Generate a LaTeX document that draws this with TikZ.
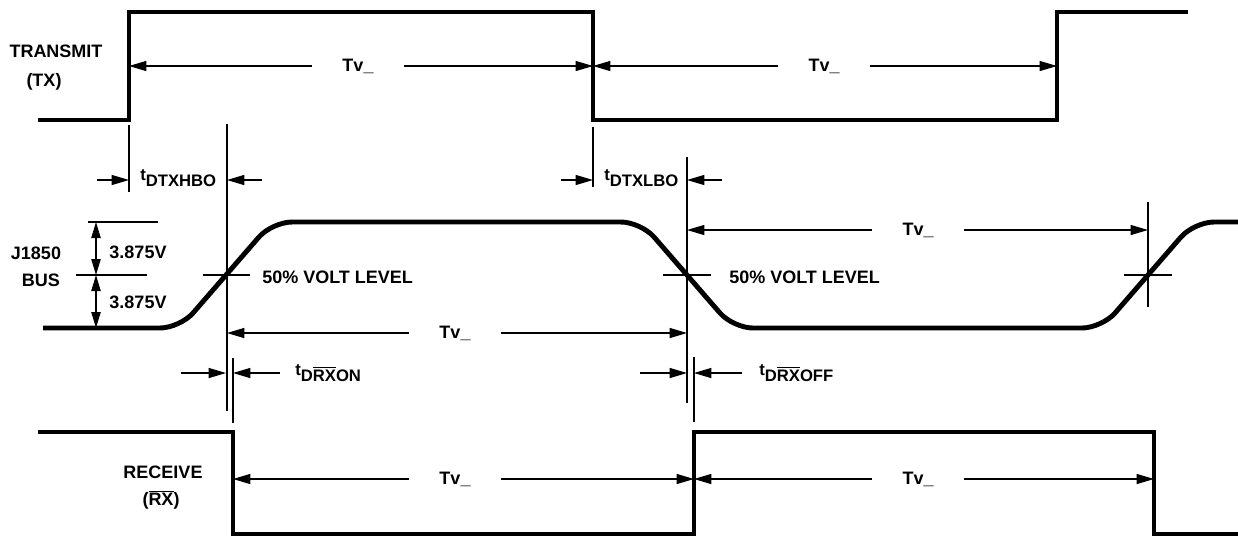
\documentclass[tikz,border=0pt]{standalone}
\usepackage{fontspec}
\setmainfont{Liberation Sans}
\usetikzlibrary{arrows.meta}
\tikzset{
  signal/.style={line width=3.7pt},
  guide/.style={line width=0.9pt},
  dim/.style={guide,-{Triangle[length=13pt,width=7.5pt]}},
  dimboth/.style={guide,{Triangle[length=12pt,width=7pt]}-{Triangle[length=12pt,width=7pt]}},
  txt/.style={inner sep=0.75pt,font=\fontsize{13.5}{16}\selectfont\bfseries},
  tvlabel/.style={txt,inner xsep=23pt},
  tlabel/.style={txt,anchor=base west,font=\fontsize{12.5}{15}\selectfont\bfseries}
}
\newcommand{\tdelay}[1]{t\raisebox{-4.5pt}{#1}}
\newcommand{\barrx}{$\overline{\mbox{RX}}$}

\begin{document}
\begin{tikzpicture}[x=0.75pt,y=0.75pt,yscale=-1,xscale=1]
\path[use as bounding box] (0,0) rectangle (1238,537);

% Edge points
\coordinate (tx1) at (129,66);
\coordinate (tx2) at (593,66);
\coordinate (tx3) at (1057,66);
\coordinate (bus1) at (227,333);
\coordinate (bus2) at (687,333);
\coordinate (bus3) at (687,230);
\coordinate (bus4) at (1148,230);
\coordinate (rx1) at (233,479);
\coordinate (rx2) at (694,479);
\coordinate (rx3) at (1154,479);
\coordinate (hbo1) at (129,180);
\coordinate (hbo2) at (227,180);
\coordinate (lbo1) at (593,180);
\coordinate (lbo2) at (687,180);
\coordinate (on1) at (226,373);
\coordinate (on2) at (233,373);
\coordinate (off1) at (687,373);
\coordinate (off2) at (694,373);
\coordinate (vtop) at (96,222);
\coordinate (vmid) at (96,275);
\coordinate (vlow) at (96,328);

%Shape: TX waveform
\draw[signal] (38,120) -- (129,120) -- (129,12) -- (593,12) -- (593,120) -- (1057,120) -- (1057,12) -- (1188,12);
%Shape: J1850 bus waveform
\draw[signal,rounded corners=15pt] (43,328) -- (180,328) -- (272,222) -- (641,222) -- (733,328) -- (1102,328) -- (1194,222) -- (1238,222);
%Shape: RX waveform
\draw[signal] (38,432) -- (233,432) -- (233,534) -- (694,534) -- (694,432) -- (1154,432) -- (1154,534) -- (1238,534);

%Straight Lines: guides
\draw[guide] (129,125) -- (129,192);
\draw[guide] (227,124) -- (227,411);
\draw[guide] (593,127) -- (593,187);
\draw[guide] (687,157) -- (687,403);
\draw[guide] (233,358) -- (233,423);
\draw[guide] (694,357) -- (694,422);
\draw[guide] (1148,202) -- (1148,307);
\draw[guide] (203,275) -- (250,275);
\draw[guide] (663,275) -- (711,275);
\draw[guide] (1124,275) -- (1172,275);
\draw[guide] (88,222) -- (158,222);
\draw[guide] (76,275) -- (147,275);

% Text Node
\node[txt] (transmit) at (56,51) {TRANSMIT};
\node[txt] (txname) at (44,82) {(TX)};
\node[txt] (j1850) at (36,253) {J1850};
\node[txt] (busname) at (41,280) {BUS};
\node[txt] (receive) at (163,472) {RECEIVE};
\node[txt] (rxname) at (161,500) {(\barrx)};
\node[txt] (vhigh) at (138,252) {3.875V};
\node[txt] (vlowlbl) at (138,302) {3.875V};
\node[txt,anchor=west] (halfA) at (261,277) {50\% VOLT LEVEL};
\node[txt,anchor=west] (halfB) at (728,277) {50\% VOLT LEVEL};

% Tv_ periods
\node[tvlabel] (tvtxA) at (358,66) {Tv\_};
\node[tvlabel] (tvtxB) at (824,66) {Tv\_};
\node[tvlabel] (tvbusA) at (455,333) {Tv\_};
\node[tvlabel] (tvbusB) at (918,230) {Tv\_};
\node[tvlabel] (tvrxA) at (455,479) {Tv\_};
\node[tvlabel] (tvrxB) at (918,479) {Tv\_};
\draw[dim] (tvtxA.west) -- (tx1);
\draw[dim] (tvtxA.east) -- (tx2);
\draw[dim] (tvtxB.west) -- (tx2);
\draw[dim] (tvtxB.east) -- (tx3);
\draw[dim] (tvbusA.west) -- (bus1);
\draw[dim] (tvbusA.east) -- (bus2);
\draw[dim] (tvbusB.west) -- (bus3);
\draw[dim] (tvbusB.east) -- (bus4);
\draw[dim] (tvrxA.west) -- (rx1);
\draw[dim] (tvrxA.east) -- (rx2);
\draw[dim] (tvrxB.west) -- (rx2);
\draw[dim] (tvrxB.east) -- (rx3);

% Delay times
\node[tlabel] (dtxhbo) at (139,180) {\tdelay{DTXHBO}};
\node[tlabel] (dtxlbo) at (603,180) {\tdelay{DTXLBO}};
\node[tlabel] (drxon) at (294,375) {\tdelay{D\barrx ON}};
\node[tlabel] (drxoff) at (758,375) {\tdelay{D\barrx OFF}};
\draw[dim] ([xshift=-24pt]hbo1) -- (hbo1);
\draw[dim] ([xshift=26pt]hbo2) -- (hbo2);
\draw[dim] ([xshift=-24pt]lbo1) -- (lbo1);
\draw[dim] ([xshift=26pt]lbo2) -- (lbo2);
\draw[dim] ([xshift=-34pt]on1) -- (on1);
\draw[dim] ([xshift=35pt]on2) -- (on2);
\draw[dim] ([xshift=-35pt]off1) -- (off1);
\draw[dim] ([xshift=36pt]off2) -- (off2);

% Voltage swing
\draw[dimboth] (vtop) -- (vmid);
\draw[dimboth] (vmid) -- (vlow);

\end{tikzpicture}
\end{document}
